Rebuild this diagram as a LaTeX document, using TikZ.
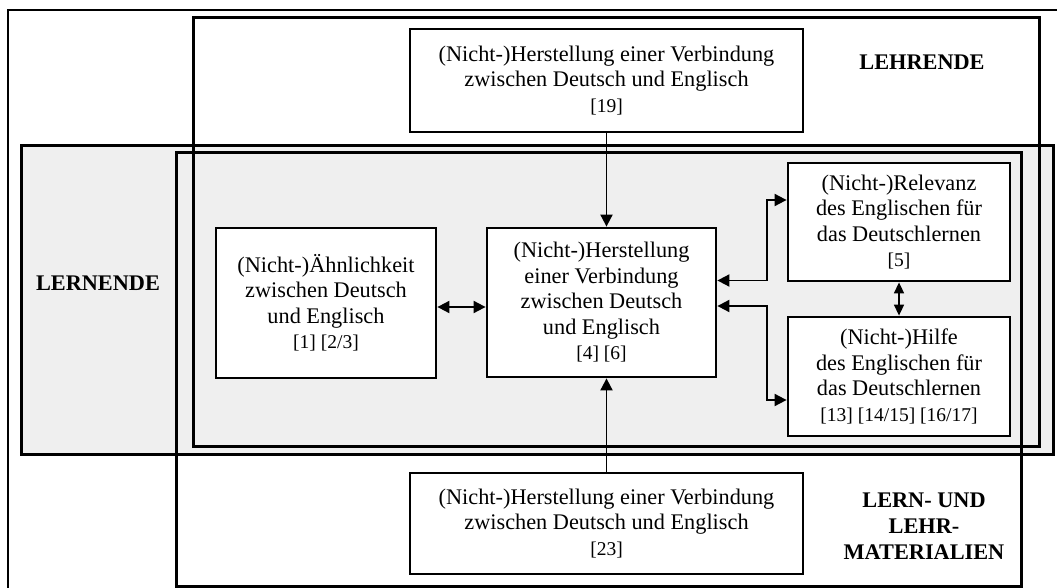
\documentclass[tikz,border=0pt]{standalone}
\usepackage{fontspec}
\setmainfont{Liberation Serif}
\usetikzlibrary{arrows.meta}
\definecolor{lgray}{RGB}{239,239,239}
\newcommand{\mainsz}{\fontsize{22.3}{25.5}\selectfont}
\newcommand{\refsz}{\fontsize{19.5}{25.5}\selectfont}
\tikzset{
  frame/.style={line width=1.6pt},
  region/.style={line width=3pt},
  boxnode/.style={draw, line width=2.8pt, fill=white, inner sep=0pt, align=center, font=\mainsz},
  lbl/.style={inner sep=0pt, align=center, font=\mainsz\bfseries},
  conn/.style={line width=1.9pt, -{Triangle[length=12pt,width=12pt]}},
  conn2/.style={line width=1.9pt, {Triangle[length=12pt,width=12pt]}-{Triangle[length=12pt,width=12pt]}},
  conn3/.style={line width=1.6pt, {Triangle[length=11pt,width=10pt]}-{Triangle[length=11pt,width=10pt]}}
}
\begin{document}
\begin{tikzpicture}[x=1pt,y=-1pt]
\useasboundingbox (0,0) rectangle (1057,588);
\fill[white] (0,0) rectangle (1057,588);
% outer frame (cropped)
\draw[frame] (8,600) -- (8,10) -- (1070,10);
% Lernende region (gray)
\draw[region, fill=lgray] (21,146) rectangle (1053,454);
% Lehrende region
\draw[region] (193,18) rectangle (1039,446);
% Lern- und Lehrmaterialien region
\draw[region] (176,153) rectangle (1021,586);

% labels
\node[lbl] (lehr) at (922,62) {LEHRENDE};
\node[lbl] (lern) at (98,283) {LERNENDE};
\node[lbl, font=\fontsize{22.3}{26}\selectfont\bfseries] (mat) at (924,526) {LERN- UND\\LEHR-\\MATERIALIEN};

% content boxes
\node[boxnode, minimum width=393pt, minimum height=103pt] (top) at (606.5,80.5)
  {(Nicht-)Herstellung einer Verbindung\\zwischen Deutsch und Englisch\\{\refsz [19]}};
\node[boxnode, minimum width=393pt, minimum height=101pt] (bot) at (606.5,523.5)
  {(Nicht-)Herstellung einer Verbindung\\zwischen Deutsch und Englisch\\{\refsz [23]}};
\node[boxnode, minimum width=220pt, minimum height=150pt] (aehn) at (326,303)
  {(Nicht-)Ähnlichkeit\\zwischen Deutsch\\und Englisch\\{\refsz [1] [2/3]}};
\node[boxnode, minimum width=229pt, minimum height=149pt] (mid) at (601.5,302.5)
  {(Nicht-)Herstellung\\einer Verbindung\\zwischen Deutsch\\und Englisch\\{\refsz [4] [6]}};
\node[boxnode, minimum width=222pt, minimum height=118pt] (rel) at (899,222)
  {(Nicht-)Relevanz\\des Englischen für\\das Deutschlernen\\{\refsz [5]}};
\node[boxnode, minimum width=222pt, minimum height=119pt] (hil) at (899,376.5)
  {(Nicht-)Hilfe\\des Englischen für\\das Deutschlernen\\{\refsz [13] [14/15] [16/17]}};

% connectors
\draw[conn] (top.south) -- (top.south |- mid.north);
\draw[conn] (bot.north) -- (bot.north |- mid.south);
\draw[conn2] ([yshift=-4pt]aehn.east) -- ([yshift=-4pt]aehn.east -| mid.west);
\draw[conn2] ([yshift=22pt]mid.east) -- ++(50,0) |- ([yshift=22pt]rel.west);
\draw[conn2] ([yshift=-3.5pt]mid.east) -- ++(50,0) |- ([yshift=-23.5pt]hil.west);
\draw[conn3] (rel.south) -- (hil.north);
\end{tikzpicture}
\end{document}
